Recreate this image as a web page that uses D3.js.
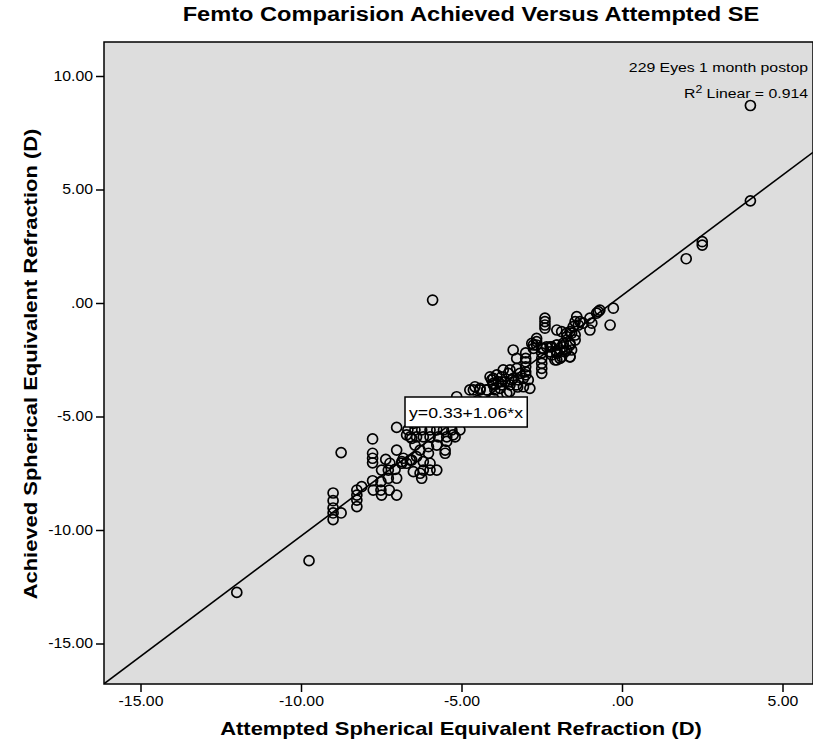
<!DOCTYPE html>
<html>
<head>
<meta charset="utf-8">
<script src="https://cdn.jsdelivr.net/npm/d3@7"></script>
<style>
  body { margin: 0; background: #fff; }
  text { font-family: "Liberation Sans", Arial, sans-serif; }
</style>
</head>
<body>
<div id="chart"></div>
<script>
// tick values + labels (SPSS style, no leading zero)
var xTicks = [-15, -10, -5, 0, 5];
var xTickLabels = ["-15.00", "-10.00", "-5.00", ".00", "5.00"];
var yTicks = [10, 5, 0, -5, -10, -15];
var yTickLabels = ["10.00", "5.00", ".00", "-5.00", "-10.00", "-15.00"];

// fit line y = a + b*x
var fitA = 0.33, fitB = 1.06;
var fitLabel = "y=0.33+1.06*x";

// attempted SE (x) and achieved SE (y)
var attempted = [
  4.0, 4.0, 2.5, 2.5, 2.0, -5.9, -12.0, -9.75,
  -0.27, -0.74, -0.37, -1.0, -1.0, -0.79, -0.69, -0.94, -1.21, -1.41, -1.31, -1.46, -1.52, -1.36,
  -2.4, -2.4, -2.4, -2.4,
  -2.03, -1.88, -1.72, -1.62, -1.46, -1.72, -1.57, -1.46, -1.62, -1.83,
  -2.66, -2.66, -2.45, -2.24, -2.03, -1.83, -1.62, -1.78, -2.03, -2.19, -1.93, -1.62,
  -1.93, -1.72, -1.57, -1.62, -1.88, -2.03, -2.76, -3.39, -3.28,
  -2.81, -2.66, -2.76, -2.5, -2.35, -2.19, -2.03, -2.24, -2.03, -2.09,
  -3.0, -3.0, -3.0, -3.0, -3.0, -3.0,
  -2.5, -2.5, -2.5, -2.5, -2.5,
  -3.28, -3.49, -3.7, -3.9, -4.11, -4.06, -3.85, -3.64, -3.44, -3.23, -3.07, -2.92, -2.87,
  -3.07, -3.28, -3.49, -3.75, -4.01, -4.21, -4.42, -4.63,
  -4.01, -4.01, -3.75, -3.75, -3.54, -3.39, -3.18,
  -4.74, -4.58, -4.42, -4.21, -3.96, -3.8, -3.59, -5.15,
  -6.0, -5.5, -5.0, -4.5, -4.0, -3.5, -6.5, -5.75, -4.75, -3.25,
  -6.67, -6.45, -6.24, -5.98, -5.77, -5.56, -5.3, -5.05,
  -6.6, -6.4, -6.19, -5.98, -5.72, -5.46, -5.2,
  -6.45, -6.29, -6.03, -6.03, -5.77, -5.51, -5.51, -5.26, -5.46, -6.71, -6.55,
  -6.86, -6.71, -6.55, -6.4, -6.29, -6.24, -6.5,
  -6.81, -6.6, -6.19, -5.98, -6.19, -5.98, -5.77,
  -7.02, -7.77, -8.75, -7.02, -7.77, -7.77, -7.77, -7.36, -7.23,
  -7.49, -7.28, -7.07, -6.86, -7.77, -7.51, -7.28, -7.02,
  -7.75, -7.51, -7.25, -7.49, -7.02,
  -8.11, -8.26, -8.26, -8.26, -8.26,
  -9.0, -9.0, -9.0, -9.0, -9.0, -8.75
];
var achieved = [
  8.7, 4.5, 2.7, 2.55, 1.95, 0.13, -12.75, -11.35,
  -0.23, -0.38, -0.97, -0.67, -1.19, -0.45, -0.31, -0.89, -0.89, -0.6, -0.82, -0.82, -1.04, -0.97,
  -0.67, -0.82, -0.97, -1.11,
  -1.19, -1.26, -1.33, -1.26, -1.41, -1.48, -1.33, -1.63, -1.78, -1.78,
  -1.56, -1.85, -2.0, -1.93, -1.85, -1.93, -1.85, -2.15, -2.15, -2.29, -2.44, -2.37,
  -2.07, -2.07, -2.07, -2.37, -2.37, -2.51, -1.85, -2.07, -2.44,
  -1.78, -1.7, -2.0, -2.0, -1.93, -1.93, -1.85, -2.15, -2.22, -2.51,
  -2.2, -2.44, -2.59, -2.81, -3.03, -3.17,
  -2.2, -2.44, -2.66, -2.88, -3.1,
  -2.88, -2.95, -2.95, -3.17, -3.25, -3.39, -3.47, -3.47, -3.39, -3.39, -3.32, -3.39, -3.76,
  -3.69, -3.61, -3.61, -3.61, -3.61, -3.83, -3.83, -3.83,
  -3.32, -3.54, -3.25, -3.47, -3.1, -3.32, -3.1,
  -3.83, -3.69, -3.76, -3.83, -3.83, -3.76, -3.98, -4.13,
  -5.0, -4.6, -4.5, -4.3, -4.2, -3.9, -5.3, -4.9, -4.6, -3.7,
  -5.59, -5.59, -5.59, -5.59, -5.59, -5.59, -5.59, -5.59,
  -5.9, -5.9, -5.9, -5.9, -5.9, -5.9, -5.9,
  -6.26, -6.48, -6.33, -6.62, -6.26, -6.48, -6.62, -5.81, -6.1, -5.81, -5.96,
  -6.99, -7.06, -6.92, -6.77, -7.5, -7.72, -7.43,
  -6.84, -6.92, -6.99, -7.06, -7.36, -7.36, -7.36,
  -5.48, -5.99, -6.59, -6.48, -6.62, -6.84, -7.04, -6.89, -7.06,
  -7.36, -7.36, -7.33, -7.06, -7.83, -7.87, -7.72, -7.72,
  -8.24, -8.24, -8.24, -8.46, -8.46,
  -8.09, -8.24, -8.46, -8.68, -8.97,
  -8.37, -8.71, -9.03, -9.25, -9.54, -9.25
];

var points = attempted.map(function(d, i) { return {x: d, y: achieved[i]}; });

var width = 813, height = 745;
var plot = {left: 104, right: 813, top: 42, bottom: 684};

// widen a text selection horizontally to a target width (source text is a bit stretched)
function stretch(sel, k) {
    sel.each(function() {
        var w = this.getComputedTextLength();
        d3.select(this)
            .attr("textLength", w * k)
            .attr("lengthAdjust", "spacingAndGlyphs");
    });
}

var svg = d3.select("#chart").append("svg")
    .attr("width", width)
    .attr("height", height);

var x = d3.scaleLinear()
    .domain([-15, 5])
    .range([140.5, 782.5]);
var y = d3.scaleLinear()
    .domain([0, 10])
    .range([303, 76]);

// plot background
svg.append("rect")
    .attr("x", plot.left)
    .attr("y", plot.top)
    .attr("width", plot.right - plot.left)
    .attr("height", plot.bottom - plot.top)
    .attr("fill", "#dddddd");

svg.append("clipPath").attr("id", "clip")
  .append("rect")
    .attr("x", plot.left)
    .attr("y", plot.top)
    .attr("width", plot.right - plot.left)
    .attr("height", plot.bottom - plot.top);

// fit line
var x0 = x.invert(plot.left), x1 = x.invert(plot.right);
svg.append("line")
    .attr("clip-path", "url(#clip)")
    .attr("x1", x(x0)).attr("y1", y(fitA + fitB * x0))
    .attr("x2", x(x1)).attr("y2", y(fitA + fitB * x1))
    .attr("stroke", "#000")
    .attr("stroke-width", 1.6);

// points
svg.append("g")
    .attr("clip-path", "url(#clip)")
  .selectAll("circle")
    .data(points)
  .enter().append("circle")
    .attr("cx", function(d) { return x(d.x); })
    .attr("cy", function(d) { return y(d.y); })
    .attr("r", 5)
    .attr("fill", "none")
    .attr("stroke", "#000")
    .attr("stroke-width", 1.7);

// frame
svg.append("rect")
    .attr("x", plot.left)
    .attr("y", plot.top)
    .attr("width", plot.right - plot.left)
    .attr("height", plot.bottom - plot.top)
    .attr("fill", "none")
    .attr("stroke", "#000")
    .attr("stroke-width", 1.5);

// axes
var xAxis = d3.axisBottom(x)
    .tickValues(xTicks)
    .tickSize(8)
    .tickFormat(function(d, i) { return xTickLabels[i]; });
var yAxis = d3.axisLeft(y)
    .tickValues(yTicks)
    .tickSize(8)
    .tickFormat(function(d, i) { return yTickLabels[i]; });

var gx = svg.append("g")
    .attr("transform", "translate(0," + plot.bottom + ")")
    .call(xAxis);
var gy = svg.append("g")
    .attr("transform", "translate(" + plot.left + ",0)")
    .call(yAxis);

[gx, gy].forEach(function(g) {
    g.select(".domain").remove();
    g.selectAll(".tick line").attr("stroke", "#000").attr("stroke-width", 1.5);
    g.selectAll(".tick text")
        .attr("fill", "#000")
        .style("font-size", "14px")
        .style("font-family", "'Liberation Sans', Arial, sans-serif");
});
gx.selectAll(".tick text").attr("dy", "0.71em").attr("y", 12);
gy.selectAll(".tick text").attr("x", -11);
stretch(gx.selectAll(".tick text"), 1.13);
stretch(gy.selectAll(".tick text"), 1.13);

// titles
svg.append("text")
    .attr("x", 471)
    .attr("y", 21)
    .attr("text-anchor", "middle")
    .style("font-size", "20px")
    .style("font-weight", "bold")
    .text("Femto Comparision Achieved Versus Attempted SE")
    .call(stretch, 1.18);

svg.append("text")
    .attr("x", 461)
    .attr("y", 735)
    .attr("text-anchor", "middle")
    .style("font-size", "19px")
    .style("font-weight", "bold")
    .text("Attempted Spherical Equivalent Refraction (D)")
    .call(stretch, 1.155);

svg.append("text")
    .attr("transform", "translate(37,364) rotate(-90)")
    .attr("text-anchor", "middle")
    .style("font-size", "19px")
    .style("font-weight", "bold")
    .text("Achieved Spherical Equivalent Refraction (D)")
    .call(stretch, 1.155);

// annotations top right
svg.append("text")
    .attr("x", 808)
    .attr("y", 72)
    .attr("text-anchor", "end")
    .style("font-size", "13.5px")
    .text("229 Eyes 1 month postop")
    .call(stretch, 1.17);

var r2 = svg.append("g").attr("transform", "translate(808,98) scale(1.17,1)");
var r2t = r2.append("text")
    .attr("x", 0)
    .attr("y", 0)
    .attr("text-anchor", "end")
    .style("font-size", "13.5px");
r2t.append("tspan").text("R");
r2t.append("tspan").attr("dy", -5).style("font-size", "10.5px").text("2");
r2t.append("tspan").attr("dy", 5).text(" Linear = 0.914");

// fit label box
var lbl = svg.append("g");
var lblText = lbl.append("text")
    .attr("x", 409)
    .attr("y", 418)
    .style("font-size", "15.5px")
    .text(fitLabel)
    .call(stretch, 1.14);
var bb = lblText.node().getBBox();
lbl.insert("rect", "text")
    .attr("x", bb.x - 4)
    .attr("y", 397)
    .attr("width", bb.width + 8)
    .attr("height", 30)
    .attr("fill", "#fff")
    .attr("stroke", "#000")
    .attr("stroke-width", 1.5);
</script>
</body>
</html>
